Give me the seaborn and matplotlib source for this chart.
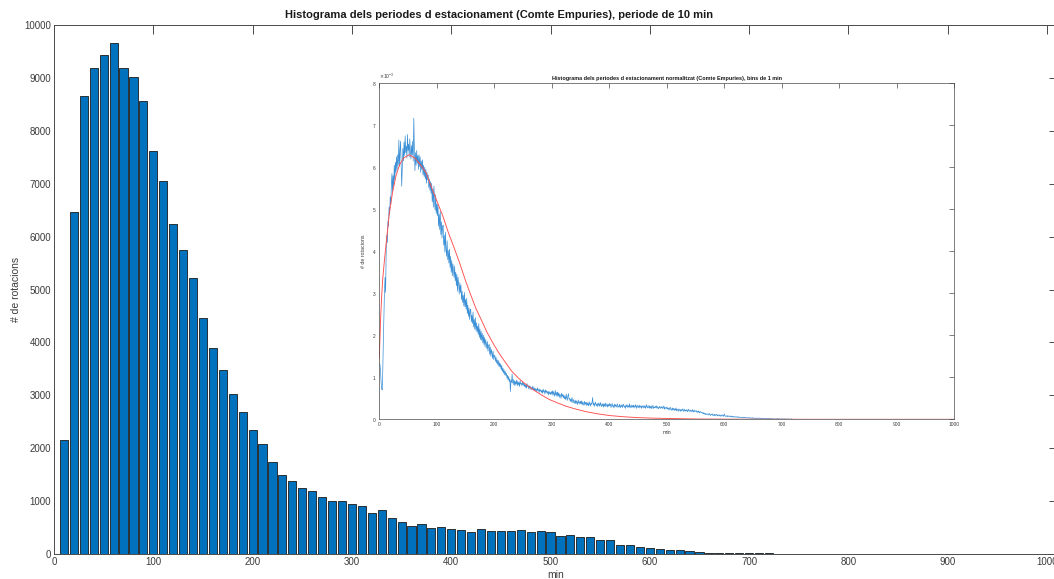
import numpy as np
import matplotlib
matplotlib.use("Agg")
import matplotlib.pyplot as plt
import seaborn as sns
from matplotlib.ticker import ScalarFormatter, MultipleLocator

# Histogram of parking durations, 10-minute bins (bin centres in minutes)
centres = [10, 20, 30, 40, 50, 60, 70, 80, 90, 100,
           110, 120, 130, 140, 150, 160, 170, 180, 190, 200,
           210, 220, 230, 240, 250, 260, 270, 280, 290, 300,
           310, 320, 330, 340, 350, 360, 370, 380, 390, 400,
           410, 420, 430, 440, 450, 460, 470, 480, 490, 500,
           510, 520, 530, 540, 550, 560, 570, 580, 590, 600,
           610, 620, 630, 640, 650, 660, 670, 680, 690, 700,
           710, 720]
comptes = [2160, 6470, 8655, 9182, 9440, 9658, 9188, 9012, 8555, 7620,
           7055, 6237, 5752, 5222, 4464, 3889, 3485, 3024, 2680, 2347,
           2087, 1740, 1499, 1372, 1246, 1195, 1075, 1011, 1011, 936,
           898, 772, 835, 683, 601, 538, 563, 493, 506, 474,
           455, 411, 474, 436, 436, 436, 455, 424, 436, 411,
           348, 367, 329, 329, 272, 272, 171, 171, 127, 120,
           101, 82, 76, 51, 38, 25, 25, 19, 13, 13,
           13, 13]

# Normalised histogram with 1-minute bins (values x 1e-3), minutes 1..720
densitat_1min = [
    1.32, 1.18, 0.92, 0.74, 0.70, 1.12, 1.85, 2.42, 3.05, 3.38,
    3.02, 4.05, 4.38, 4.21, 4.72, 4.60, 5.05, 4.88, 5.30, 5.12,
    5.58, 5.85, 5.42, 5.80, 5.55, 6.05, 5.70, 6.12, 5.88, 6.25,
    5.95, 6.30, 6.05, 6.65, 6.02, 6.40, 6.62, 6.10, 5.55, 5.98,
    6.45, 6.15, 6.60, 6.28, 6.75, 6.35, 6.50, 6.22, 6.78, 6.40,
    6.55, 6.25, 6.68, 6.38, 6.20, 6.52, 6.30, 6.62, 6.15, 7.17,
    6.45, 5.92, 6.35, 6.05, 6.40, 6.10, 6.28, 5.95, 6.30, 6.02,
    6.25, 5.88, 6.15, 5.95, 6.18, 5.82, 6.05, 5.78, 6.00, 5.72,
    5.95, 5.62, 5.88, 5.70, 5.82, 5.52, 5.72, 5.45, 5.66, 5.38,
    5.62, 5.18, 5.48, 5.05, 5.55, 5.22, 4.98, 5.35, 4.90, 5.12,
    4.85, 5.12, 4.60, 4.88, 4.52, 4.95, 4.40, 4.70, 4.32, 4.58,
    4.62, 4.15, 4.38, 3.98, 4.45, 4.05, 3.88, 4.25, 3.80, 4.02,
    3.72, 4.05, 3.62, 3.88, 3.50, 3.78, 3.42, 3.70, 3.55, 3.38,
    3.65, 3.30, 3.50, 3.18, 3.45, 3.05, 3.38, 3.22, 2.98, 3.25,
    3.02, 3.20, 2.85, 3.05, 2.78, 2.95, 2.70, 3.02, 2.68, 2.85,
    2.62, 2.88, 2.52, 2.72, 2.45, 2.65, 2.38, 2.58, 2.62, 2.32,
    2.48, 2.28, 2.55, 2.20, 2.38, 2.15, 2.42, 2.12, 2.30, 2.08,
    2.22, 2.02, 2.28, 1.95, 2.15, 1.90, 2.10, 1.88, 2.05, 1.82,
    2.00, 1.78, 1.95, 1.72, 1.90, 1.80, 1.68, 1.85, 1.62, 1.75,
    1.78, 1.55, 1.72, 1.50, 1.66, 1.58, 1.45, 1.62, 1.42, 1.52,
    1.52, 1.38, 1.48, 1.34, 1.42, 1.30, 1.40, 1.26, 1.35, 1.24,
    1.32, 1.18, 1.28, 1.14, 1.22, 1.10, 1.18, 1.06, 1.14, 1.04,
    1.10, 0.98, 1.05, 0.94, 1.02, 0.90, 0.96, 0.66, 0.92, 0.88,
    1.08, 0.86, 0.95, 0.82, 0.92, 0.80, 0.90, 0.84, 0.94, 0.80,
    0.90, 0.82, 0.88, 0.78, 0.92, 0.84, 0.86, 0.80, 0.88, 0.82,
    0.86, 0.78, 0.84, 0.76, 0.82, 0.74, 0.85, 0.78, 0.80, 0.72,
    0.80, 0.74, 0.78, 0.70, 0.76, 0.72, 0.79, 0.70, 0.75, 0.68,
    0.74, 0.68, 0.72, 0.66, 0.75, 0.69, 0.71, 0.64, 0.72, 0.67,
    0.70, 0.64, 0.69, 0.62, 0.72, 0.65, 0.68, 0.60, 0.70, 0.64,
    0.68, 0.62, 0.66, 0.58, 0.67, 0.61, 0.64, 0.59, 0.66, 0.60,
    0.68, 0.57, 0.66, 0.60, 0.55, 0.69, 0.58, 0.64, 0.54, 0.65,
    0.56, 0.63, 0.52, 0.60, 0.57, 0.50, 0.62, 0.55, 0.59, 0.51,
    0.58, 0.49, 0.54, 0.47, 0.60, 0.51, 0.45, 0.56, 0.61, 0.48,
    0.50, 0.43, 0.48, 0.41, 0.52, 0.44, 0.39, 0.47, 0.42, 0.38,
    0.45, 0.37, 0.44, 0.40, 0.35, 0.46, 0.39, 0.42, 0.36, 0.43,
    0.37, 0.44, 0.34, 0.41, 0.38, 0.33, 0.43, 0.36, 0.40, 0.33,
    0.41, 0.34, 0.38, 0.32, 0.42, 0.36, 0.31, 0.39, 0.35, 0.40,
    0.52, 0.34, 0.39, 0.31, 0.37, 0.41, 0.33, 0.36, 0.30, 0.38,
    0.33, 0.39, 0.31, 0.36, 0.40, 0.30, 0.35, 0.32, 0.38, 0.29,
    0.36, 0.31, 0.39, 0.30, 0.34, 0.37, 0.29, 0.35, 0.31, 0.38,
    0.32, 0.36, 0.28, 0.34, 0.38, 0.30, 0.33, 0.27, 0.36, 0.31,
    0.35, 0.29, 0.33, 0.37, 0.28, 0.32, 0.30, 0.36, 0.27, 0.33,
    0.30, 0.35, 0.28, 0.33, 0.36, 0.29, 0.31, 0.26, 0.34, 0.30,
    0.35, 0.28, 0.32, 0.29, 0.37, 0.27, 0.31, 0.34, 0.28, 0.33,
    0.29, 0.34, 0.27, 0.32, 0.30, 0.35, 0.26, 0.31, 0.33, 0.28,
    0.32, 0.27, 0.34, 0.29, 0.31, 0.26, 0.33, 0.30, 0.27, 0.32,
    0.28, 0.33, 0.26, 0.31, 0.35, 0.27, 0.30, 0.28, 0.33, 0.26,
    0.31, 0.27, 0.32, 0.25, 0.30, 0.33, 0.26, 0.29, 0.27, 0.31,
    0.28, 0.32, 0.26, 0.30, 0.27, 0.25, 0.31, 0.28, 0.26, 0.30,
    0.27, 0.30, 0.25, 0.29, 0.32, 0.24, 0.28, 0.26, 0.29, 0.25,
    0.28, 0.24, 0.27, 0.22, 0.26, 0.29, 0.23, 0.25, 0.21, 0.27,
    0.23, 0.26, 0.21, 0.25, 0.22, 0.27, 0.20, 0.24, 0.22, 0.19,
    0.25, 0.21, 0.23, 0.19, 0.24, 0.20, 0.22, 0.25, 0.19, 0.21,
    0.24, 0.19, 0.22, 0.20, 0.23, 0.18, 0.21, 0.24, 0.19, 0.20,
    0.22, 0.18, 0.21, 0.19, 0.23, 0.17, 0.20, 0.22, 0.18, 0.19,
    0.21, 0.17, 0.19, 0.16, 0.20, 0.18, 0.15, 0.19, 0.17, 0.16,
    0.17, 0.14, 0.16, 0.13, 0.15, 0.12, 0.14, 0.11, 0.13, 0.12,
    0.13, 0.10, 0.12, 0.14, 0.11, 0.09, 0.12, 0.11, 0.13, 0.09,
    0.11, 0.09, 0.12, 0.08, 0.11, 0.10, 0.12, 0.08, 0.10, 0.09,
    0.11, 0.08, 0.10, 0.07, 0.09, 0.11, 0.08, 0.09, 0.07, 0.13,
    0.09, 0.07, 0.08, 0.07, 0.09, 0.06, 0.08, 0.07, 0.08, 0.06,
    0.07, 0.06, 0.08, 0.05, 0.07, 0.06, 0.07, 0.05, 0.06, 0.05,
    0.06, 0.05, 0.06, 0.04, 0.06, 0.05, 0.05, 0.04, 0.05, 0.04,
    0.05, 0.04, 0.05, 0.03, 0.05, 0.04, 0.04, 0.03, 0.04, 0.03,
    0.04, 0.03, 0.04, 0.03, 0.04, 0.02, 0.03, 0.03, 0.04, 0.02,
    0.03, 0.02, 0.03, 0.02, 0.03, 0.02, 0.03, 0.02, 0.03, 0.02,
    0.03, 0.02, 0.02, 0.01, 0.03, 0.02, 0.02, 0.01, 0.02, 0.02,
    0.02, 0.01, 0.02, 0.01, 0.02, 0.01, 0.02, 0.01, 0.02, 0.01,
    0.02, 0.01, 0.01, 0.01, 0.02, 0.01, 0.01, 0.00, 0.01, 0.01,
    0.01, 0.01, 0.02, 0.00, 0.01, 0.01, 0.01, 0.00, 0.01, 0.01,
    0.01, 0.00, 0.01, 0.00, 0.01, 0.01, 0.00, 0.00, 0.01, 0.00,
    0.01, 0.00, 0.00, 0.01, 0.00, 0.00, 0.01, 0.00, 0.00, 0.00,
]

# Fitted density curve (minutes, values x 1e-3)
ajust_min = [0, 2, 4, 6, 8.7, 12, 17.4, 23, 29, 35, 42, 52, 62, 72, 81, 90,
             100, 110, 120, 131, 139, 150, 158, 168, 178, 187, 197, 207, 217,
             230, 242, 255, 268, 282, 296, 310, 325, 340, 360, 380, 400, 425,
             450, 475, 500, 550, 600, 650, 700, 800, 900, 1000]
ajust_dens = [1.45, 2.3, 2.9, 3.35, 3.75, 4.2, 4.9, 5.4, 5.8, 6.05, 6.22, 6.3,
              6.22, 6.05, 5.88, 5.55, 5.2, 4.86, 4.45, 4.05, 3.75, 3.3, 3.0,
              2.64, 2.35, 2.08, 1.83, 1.6, 1.4, 1.15, 0.98, 0.83, 0.7, 0.58,
              0.47, 0.39, 0.31, 0.25, 0.18, 0.13, 0.09, 0.06, 0.04, 0.028,
              0.02, 0.008, 0.004, 0.002, 0.001, 0.0, 0.0, 0.0]

titol_principal = "Histograma dels periodes d estacionament (Comte Empuries), periode de 10 min"
titol_inset = "Histograma dels periodes d estacionament normalitzat (Comte Empuries), bins de 1 min"

sns.set_style("white")
plt.rcParams["font.family"] = ["Liberation Sans", "DejaVu Sans"]
plt.rcParams["axes.unicode_minus"] = True

AXIS_COLOR = "#4a4a4a"
LABEL_COLOR = "#3c3c3c"
BAR_BLUE = "#0072BD"

W, H = 1054, 579
fig = plt.figure(figsize=(W / 100, H / 100), dpi=100)
fig.patch.set_facecolor("white")


def frac(left, top, right, bottom):
    return [left / W, (H - bottom) / H, (right - left) / W, (bottom - top) / H]


def style_axes(a, size, tick_len, lw):
    for s in a.spines.values():
        s.set_visible(True)
        s.set_color(AXIS_COLOR)
        s.set_linewidth(lw)
    a.tick_params(axis="both", which="both", direction="in", length=tick_len,
                  width=lw, colors=AXIS_COLOR, labelcolor=LABEL_COLOR,
                  labelsize=size, top=True, right=True, pad=2)


# Main histogram
ax = fig.add_axes(frac(54, 25, 1058, 554))
sns.barplot(x=centres, y=comptes, native_scale=True, width=0.82,
            color=BAR_BLUE, saturation=1, edgecolor="#1a1a1a", linewidth=0.6,
            ax=ax)
ax.set_xlim(0, 1011)
ax.set_ylim(0, 10000)
ax.yaxis.set_major_locator(MultipleLocator(1000))
ax.set_xticks(range(0, 1001, 100))
ax.set_xticklabels([str(v) for v in range(0, 1001, 100)])
style_axes(ax, 7, 6.5, 0.7)
ax.set_xlabel("min", fontsize=7.5, color=LABEL_COLOR, labelpad=2)
ax.set_ylabel("# de rotacions", fontsize=7.5, color=LABEL_COLOR, labelpad=2.5)
ax.set_title(titol_principal, fontsize=8, fontweight="bold", color="#1a1a1a",
             x=0.443, pad=5)

# Inset: normalised 1-minute histogram with fitted curve
axi = fig.add_axes(frac(379.3, 83.3, 954.3, 419.3))
axi.set_facecolor("white")
minuts = np.arange(1, len(densitat_1min) + 1)
sns.lineplot(x=minuts, y=np.array(densitat_1min) * 1e-3, ax=axi,
             color="#3a8fd6", linewidth=0.5, estimator=None)
sns.lineplot(x=ajust_min, y=np.array(ajust_dens) * 1e-3, ax=axi,
             color="#ff4d4d", linewidth=0.65, estimator=None)
axi.set_xlim(0, 1000)
axi.set_ylim(0, 8e-3)
axi.xaxis.set_major_locator(MultipleLocator(100))
axi.yaxis.set_major_locator(MultipleLocator(1e-3))
fmt = ScalarFormatter(useMathText=True)
fmt.set_powerlimits((0, 0))
axi.yaxis.set_major_formatter(fmt)
axi.yaxis.get_offset_text().set_fontsize(3.5)
axi.yaxis.get_offset_text().set_color(LABEL_COLOR)
style_axes(axi, 3.5, 3.5, 0.5)
axi.set_xlabel("min", fontsize=3.8, color=LABEL_COLOR, labelpad=2)
axi.set_ylabel("# de rotacions", fontsize=3.8, color=LABEL_COLOR, labelpad=4)
axi.set_title(titol_inset, fontsize=4, fontweight="bold", color="#1a1a1a",
              pad=2.5)

fig.savefig("out.png", dpi=100, facecolor="white")
